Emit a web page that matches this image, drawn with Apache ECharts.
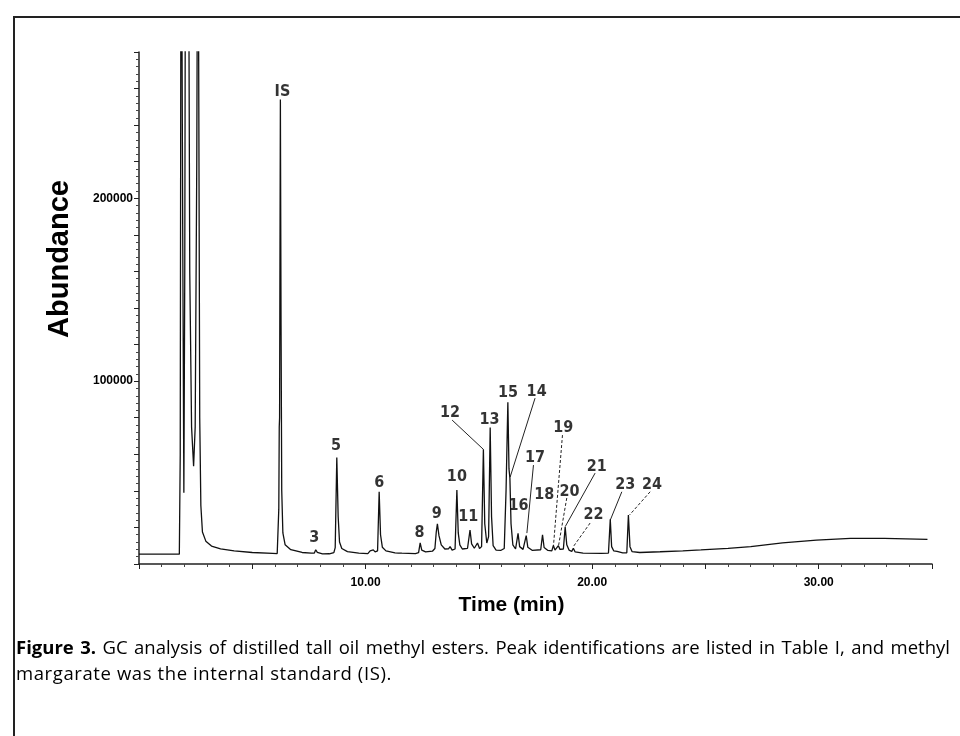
<!DOCTYPE html>
<html>
<head>
<meta charset="utf-8">
<title>GC analysis of distilled tall oil methyl esters</title>
<script src="https://cdn.jsdelivr.net/npm/echarts@6/dist/echarts.min.js"></script>
<style>
  html, body { margin: 0; padding: 0; background: #fff; }
  #frame {
    position: absolute; left: 13px; top: 16px; width: 960px; height: 740px;
    border-left: 2px solid #222; border-top: 2px solid #222;
  }
  #chart { position: absolute; left: 0; top: 0; width: 960px; height: 736px; }
  .cap {
    position: absolute; left: 16px; width: 934px;
    font-family: "Open Sans", "Noto Sans", sans-serif; font-size: 18.5px; color: #000;
    white-space: nowrap;
  }
  #cap1 { top: 634px; text-align: justify; text-align-last: justify; }
  #cap2 { top: 660px; letter-spacing: 0.6px; }
  .cap b { font-weight: 700; }
</style>
</head>
<body>
<div id="frame"></div>
<div id="chart"></div>
<div class="cap" id="cap1"><b>Figure 3.</b> GC analysis of distilled tall oil methyl esters. Peak identifications are listed in Table I, and methyl</div>
<div class="cap" id="cap2">margarate was the internal standard (IS).</div>
<script>
// trace: [time (min), abundance]
const solventTrace = [
  [0, 5400], [1.78, 5400], [1.82, 60000], [1.86, 420000], [1.93, 180000], [1.98, 39000],
  [2.02, 160000], [2.06, 420000], [2.12, 300000], [2.17, 420000], [2.24, 160000],
  [2.32, 75000], [2.41, 53500], [2.48, 75000], [2.55, 220000], [2.6, 420000],
  [2.64, 250000], [2.68, 80000], [2.73, 32000], [2.8, 17500], [2.95, 12500],
  [3.2, 9800], [3.6, 8300], [4.2, 7200], [5.0, 6300], [5.9, 5800], [6.1, 5700]
];
const standardTrace = [
  [6.14, 6000], [6.17, 30000], [6.19, 75000], [6.205, 80000], [6.22, 160000],
  [6.24, 254000], [6.27, 130000], [6.3, 40000], [6.35, 17000], [6.45, 10500],
  [6.7, 7800], [7.2, 6300], [7.6, 5900]
];
const earlyTrace = [
  [7.74, 6000], [7.8, 7800], [7.87, 6400], [8.1, 5500], [8.4, 5600], [8.6, 6200],
  [8.66, 9000], [8.73, 58300], [8.79, 26000], [8.85, 12000], [8.95, 8500], [9.2, 6800],
  [9.7, 6000], [10.1, 5700], [10.2, 7200], [10.27, 6300], [10.34, 7700], [10.42, 6600],
  [10.53, 7200], [10.6, 39500], [10.66, 16000], [10.74, 9200], [10.9, 7200], [11.3, 6100],
  [11.45, 6000], [11.52, 6900], [11.6, 5900], [12.2, 5700], [12.34, 6200], [12.41, 11600],
  [12.48, 7600], [12.65, 6600], [12.95, 7000]
];
const middleTrace = [
  [13.06, 8500], [13.12, 17500], [13.17, 21900], [13.24, 15500], [13.34, 10500],
  [13.5, 8200], [13.66, 8300], [13.73, 9500], [13.82, 7600], [13.95, 8200],
  [14.03, 40400], [14.09, 17000], [14.16, 10500], [14.27, 8200], [14.5, 8600],
  [14.61, 18600], [14.68, 11000], [14.8, 8600], [14.94, 11500], [15.03, 8500],
  [15.12, 9500], [15.2, 62700], [15.26, 22000], [15.35, 11500], [15.43, 15000],
  [15.5, 74700], [15.56, 26000], [15.63, 10000], [15.76, 7600], [15.98, 7500],
  [16.12, 8500], [16.2, 40000], [16.28, 88500], [16.33, 52000], [16.37, 47000],
  [16.42, 22000], [16.5, 10500], [16.62, 8200], [16.67, 9000], [16.73, 16800],
  [16.8, 9500], [16.95, 8000], [17.09, 15500], [17.16, 9200], [17.35, 7500],
  [17.73, 7800], [17.81, 16000], [17.88, 9000], [18.05, 7400], [18.22, 7200],
  [18.29, 10200], [18.36, 7600], [18.44, 7800], [18.51, 10000], [18.58, 8000],
  [18.73, 8200], [18.81, 20200], [18.88, 10500], [18.98, 7600], [19.1, 6900],
  [19.17, 8600], [19.25, 6600], [19.6, 6000], [20.4, 5800], [20.72, 6000]
];
const lateTrace = [
  [20.8, 24400], [20.86, 9500], [20.95, 7200], [21.1, 6900], [21.35, 6100], [21.53, 6100],
  [21.6, 26800], [21.67, 9500], [21.76, 6800], [22.1, 6300], [23.0, 6700], [24.0, 7200],
  [24.8, 7700], [26.0, 8600], [27.0, 9500], [28.4, 11500], [29.9, 13100], [31.4, 14000],
  [32.9, 14000], [34.8, 13500]
];

// peak labels (text centre, data units)
const labelNames = ['IS', '3', '5', '6', '8', '9', '10', '11', '12', '13', '15', '14',
  '16', '17', '18', '19', '20', '21', '22', '23', '24'];
const labelTimes = [6.33, 7.73, 8.7, 10.6, 12.38, 13.14, 14.03, 14.53, 13.73, 15.47, 16.29,
  17.55, 16.75, 17.48, 17.89, 18.73, 19.0, 20.2, 20.06, 21.46, 22.64];
const labelHeights = [258400, 14200, 64500, 44300, 16900, 27300, 47500, 25700, 82500, 78700,
  93400, 94100, 31700, 57900, 37700, 74300, 39500, 53200, 26800, 43200, 43200];

// leader lines: from label to peak
const leaderFrom = [[13.82, 78700], [17.48, 90700], [17.41, 54100], [18.69, 70500],
  [18.88, 36100], [20.13, 49700], [19.91, 22400], [21.31, 39500], [22.56, 39500]];
const leaderTo = [[15.2, 62700], [16.38, 47500], [17.12, 16900], [18.29, 9500],
  [18.51, 9500], [18.81, 20400], [19.17, 9500], [20.8, 24000], [21.65, 26800]];
const leaderDashed = [false, false, false, true, true, false, true, false, true];

const trace = [].concat(solventTrace, standardTrace, earlyTrace, middleTrace, lateTrace);
const boldFont = '"Liberation Sans", Arial, sans-serif';
const narrowFont = '"Liberation Sans Narrow", "DejaVu Sans Condensed", "Liberation Sans", sans-serif';

const chart = echarts.init(document.getElementById('chart'));
const option = {
  animation: false,
  grid: { left: 139, right: 28, top: 52, bottom: 172, containLabel: false },
  xAxis: {
    type: 'value', min: 0, max: 35, interval: 5,
    name: 'Time (min)', nameLocation: 'middle', nameGap: 31,
    nameTextStyle: { fontFamily: boldFont, fontWeight: 'bold', fontSize: 21, color: '#000', padding: [0, 48, 0, 0] },
    axisLine: { lineStyle: { color: '#222', width: 1.5 } },
    axisTick: { length: 5, lineStyle: { color: '#222' } },
    minorTick: { show: true, splitNumber: 5, length: 3, lineStyle: { color: '#444' } },
    splitLine: { show: false },
    axisLabel: {
      margin: 13, fontFamily: boldFont, fontWeight: 'bold', fontSize: 12, color: '#000',
      formatter: v => (v === 10 || v === 20 || v === 30) ? v.toFixed(2) : ''
    }
  },
  yAxis: {
    type: 'value', min: 0, max: 280000, interval: 20000,
    name: 'Abundance', nameLocation: 'middle', nameGap: 65, nameRotate: 90,
    nameTextStyle: { fontFamily: boldFont, fontWeight: 'bold', fontSize: 29, color: '#000', padding: [0, 0, 0, 98] },
    axisLine: { show: true, lineStyle: { color: '#222', width: 1.5 } },
    axisTick: { show: true, length: 5, lineStyle: { color: '#222' } },
    minorTick: { show: true, splitNumber: 5, length: 3, lineStyle: { color: '#444' } },
    splitLine: { show: false },
    axisLabel: {
      margin: 6, fontFamily: boldFont, fontWeight: 'bold', fontSize: 12, color: '#000',
      formatter: v => (v === 100000 || v === 200000) ? String(v) : ''
    }
  },
  series: [
    {
      type: 'line', data: trace, showSymbol: false, symbol: 'none', clip: true,
      lineStyle: { color: '#111', width: 1.3 }
    },
    {
      type: 'lines', coordinateSystem: 'cartesian2d', silent: true,
      data: leaderFrom.map((p, i) => ({
        coords: [p, leaderTo[i]],
        lineStyle: { type: leaderDashed[i] ? [3, 2] : 'solid' }
      })),
      lineStyle: { color: '#222', width: 1, opacity: 1 }
    },
    {
      type: 'scatter', symbolSize: 0, silent: true,
      data: labelNames.map((n, i) => ({ name: n, value: [labelTimes[i], labelHeights[i]] })),
      label: {
        show: true, position: 'inside', formatter: p => p.name,
        fontFamily: narrowFont, fontWeight: 'bold', fontSize: 16, color: '#000'
      }
    }
  ]
};
chart.setOption(option);
</script>
</body>
</html>
